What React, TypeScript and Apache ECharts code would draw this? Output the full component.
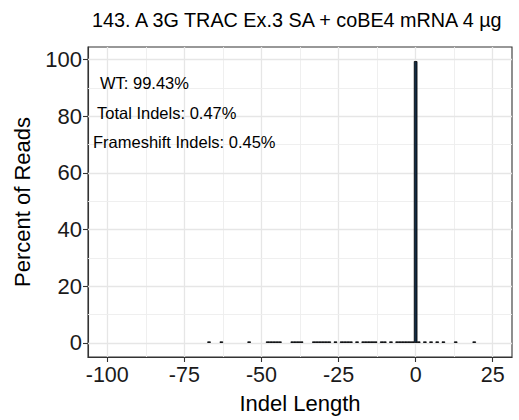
import React, { useEffect, useRef } from "react";
import * as echarts from "echarts";

const chartTitle = "143. A 3G TRAC Ex.3 SA + coBE4 mRNA 4 µg";
const xAxisTitle = "Indel Length";
const yAxisTitle = "Percent of Reads";

const indelLengths = [
  -67, -63, -54, -48, -47, -46, -45, -44, -40, -39, -38, -37, -33, -32, -31, -30,
  -29, -28, -26, -24, -23, -22, -21, -19, -17, -16, -15, -14, -13, -11, -10, -8,
  -6, -5, -4, -3, -2, -1, 0, 1, 3, 5, 7, 9, 13, 19,
];
const percentReads = [
  0.01, 0.01, 0.01, 0.01, 0.01, 0.01, 0.01, 0.01, 0.01, 0.01, 0.01, 0.01, 0.01, 0.01, 0.01, 0.01,
  0.01, 0.01, 0.01, 0.01, 0.01, 0.01, 0.01, 0.01, 0.01, 0.01, 0.01, 0.01, 0.01, 0.01, 0.01, 0.01,
  0.01, 0.01, 0.01, 0.01, 0.02, 0.02, 99.43, 0.01, 0.01, 0.01, 0.01, 0.01, 0.01, 0.01,
];

const xTicks = [-100, -75, -50, -25, 0, 25];
const xMinorGrid = [-87.5, -62.5, -37.5, -12.5, 12.5];
const yTicks = [0, 20, 40, 60, 80, 100];
const yMinorGrid = [10, 30, 50, 70, 90];

const annotationTexts = ["WT: 99.43%", "Total Indels: 0.47%", "Frameshift Indels: 0.45%"];

export default function App() {
  const ref = useRef<HTMLDivElement>(null);
  useEffect(() => {
    const chart = echarts.init(ref.current as HTMLDivElement, null, { renderer: "svg" });
    const font = "'Liberation Sans', Arial, Helvetica, sans-serif";
    const major = { color: "#E6E6E6", width: 1.3, type: "solid" };
    const minor = { color: "#EDEDED", width: 0.9, type: "solid" };
    const gridData: any[] = [
      ...xTicks.map((v) => ({ xAxis: v, lineStyle: major })),
      ...xMinorGrid.map((v) => ({ xAxis: v, lineStyle: minor })),
      ...yTicks.map((v) => ({ yAxis: v, lineStyle: major })),
      ...yMinorGrid.map((v) => ({ yAxis: v, lineStyle: minor })),
    ];
    const annLeft = [100, 97, 93];
    const annTop = [82, 112, 141];
    chart.setOption({
      animation: false,
      textStyle: { fontFamily: font },
      title: {
        text: chartTitle,
        left: 87,
        top: 5,
        textStyle: { fontSize: 19.8, fontWeight: "normal", color: "#000", fontFamily: font },
      },
      grid: {
        left: 88,
        right: 7,
        top: 47,
        bottom: 63,
        show: true,
        borderColor: "#333",
        borderWidth: 1.1,
      },
      xAxis: {
        type: "value",
        min: -106.25,
        max: 31.25,
        splitLine: { show: false },
        axisLine: { show: true, onZero: false, lineStyle: { color: "#333", width: 1.1 } },
        axisTick: { show: true, customValues: xTicks, length: 5, lineStyle: { color: "#333", width: 1.1 } },
        axisLabel: { customValues: xTicks, fontSize: 21.5, color: "#1a1a1a", margin: 7, fontFamily: font },
        name: xAxisTitle,
        nameLocation: "middle",
        nameGap: 35,
        nameTextStyle: { fontSize: 22, color: "#000", fontFamily: font },
      },
      yAxis: {
        type: "value",
        min: -4.97,
        max: 104.4,
        splitLine: { show: false },
        axisLine: { show: true, onZero: false, lineStyle: { color: "#333", width: 1.1 } },
        axisTick: { show: true, customValues: yTicks, length: 5, lineStyle: { color: "#333", width: 1.1 } },
        axisLabel: { customValues: yTicks, fontSize: 22, color: "#1a1a1a", margin: 6, fontFamily: font },
        name: yAxisTitle,
        nameLocation: "middle",
        nameGap: 55,
        nameTextStyle: { fontSize: 22, color: "#000", fontFamily: font },
      },
      graphic: annotationTexts.map((t, i) => ({
        type: "text",
        left: annLeft[i],
        top: annTop[i] - 8,
        z: 10,
        style: { text: t, fontSize: 16.5, fill: "#000", fontFamily: font },
      })),
      series: [
        {
          type: "bar",
          data: indelLengths.map((x, i) => [x, percentReads[i]]),
          barWidth: 3.6,
          barMinHeight: 1.5,
          z: 3,
          itemStyle: { color: "#132B43", borderColor: "#000", borderWidth: 0.8 },
          markLine: {
            silent: true,
            symbol: "none",
            z: 1,
            label: { show: false },
            emphasis: { disabled: true },
            animation: false,
            data: gridData,
          },
        },
      ],
    });
    return () => chart.dispose();
  }, []);
  return (
    <div
      ref={ref}
      style={{ position: "absolute", left: 0, top: 0, width: 519, height: 420 }}
    />
  );
}
